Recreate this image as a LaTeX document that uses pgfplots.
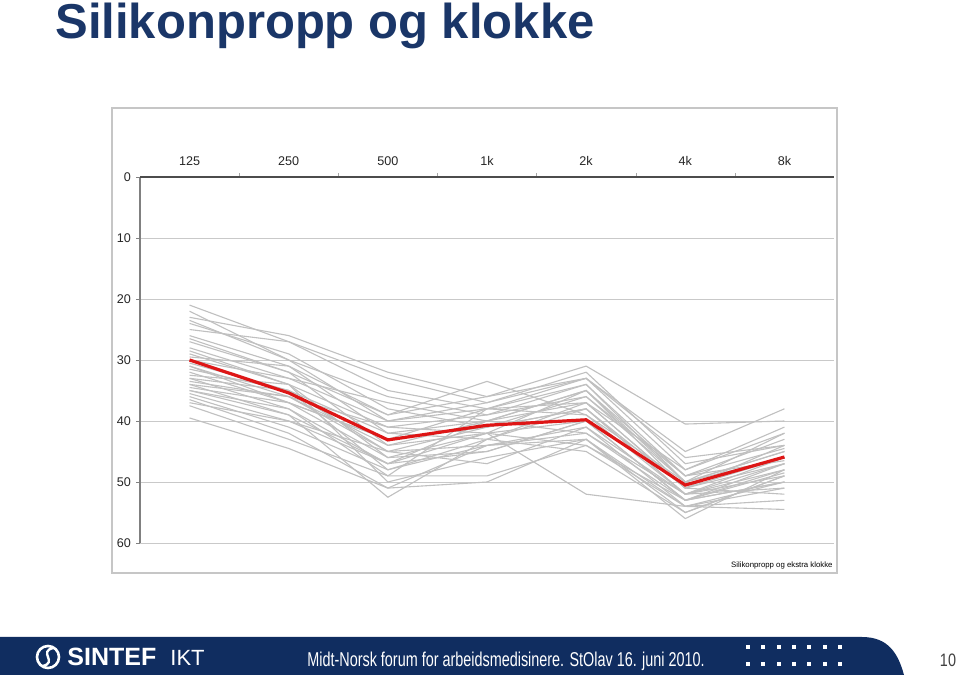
\documentclass[border=0pt]{standalone}
\usepackage{fontspec}
\setmainfont{Liberation Sans}
\usepackage{graphicx}
\usepackage{pgfplots}
\pgfplotsset{compat=1.18}
\definecolor{navy}{RGB}{26,54,104}
\definecolor{barnavy}{RGB}{16,45,96}
\definecolor{gl}{RGB}{192,192,192}
\definecolor{redl}{RGB}{222,22,22}
\newcommand\gl[7]{\addplot[gl, line width=0.55pt] coordinates {(0,#1)(1,#2)(2,#3)(3,#4)(4,#5)(5,#6)(6,#7)};}
\begin{document}
\begin{tikzpicture}[x=0.5pt,y=0.5pt]
\useasboundingbox (0,0) rectangle (960,675);
\fill[white] (0,0) rectangle (960,675);
\node[anchor=base west, font=\fontsize{24.5}{28}\selectfont\bfseries, text=navy, inner sep=0] at (55,636) {Silikonpropp og klokke};
\draw[gray!45, line width=0.6pt] (112,102) rectangle (837,567);
\begin{axis}[at={(70pt,66pt)}, anchor=south west, scale only axis, width=347pt, height=183pt,
 xmin=-0.5, xmax=6.5, ymin=0, ymax=60, y dir=reverse,
 xtick={0,...,6}, xticklabels={125,250,500,1k,2k,4k,8k}, xticklabel pos=right, xtick pos=right,
 major x tick style={draw=none}, minor xtick={0.5,1.5,...,5.5},
 minor x tick style={gray!70}, minor tick length=2pt,
 ytick={0,10,...,60}, ytick pos=left, ytick style={gray},
 ymajorgrids, grid style={gl!85, line width=0.5pt},
 tick align=outside, major tick length=2pt,
 axis line style={draw=none},
 ticklabel style={font=\fontsize{6.3}{7}\selectfont, text=black!85},
 yticklabel style={xshift=1pt},
 /pgf/number format/assume math mode=true,
 clip=false]
\gl{21}{27}{35}{38}{33}{48}{42}
\gl{22}{30}{40}{37}{32}{47}{44}
\gl{23}{26}{32}{36}{31}{40.5}{40}
\gl{23.5}{30}{36}{39}{34}{50}{46}
\gl{24}{29}{38}{41}{36}{49}{43}
\gl{25}{27}{33}{37}{33}{45}{38}
\gl{26}{31}{42}{43}{38}{52}{48}
\gl{27}{32}{44}{40}{35}{51}{47}
\gl{28}{33}{37}{40}{37}{48}{41}
\gl{29}{34}{46}{42}{40}{53}{50}
\gl{29.5}{31}{39}{33.5}{39}{52}{49}
\gl{30.5}{35}{45}{44}{41}{54}{51}
\gl{31}{36}{41}{39}{36}{50}{45}
\gl{31.5}{35}{48}{44}{42}{53}{48}
\gl{32}{37}{43}{41}{38}{51}{44}
\gl{32.5}{34}{50}{46}{43}{55}{49}
\gl{33}{38}{47}{40}{42}{52}{46}
\gl{33.5}{36}{44}{42}{44}{54}{50}
\gl{34}{39}{52.5}{43}{37}{51}{52}
\gl{34.5}{37}{46}{45}{40}{53}{47}
\gl{35}{38}{49}{38}{39}{50}{45}
\gl{35.5}{40}{45}{47}{41}{52}{51}
\gl{36}{41}{48}{43}{45}{55}{49}
\gl{36.5}{42}{51}{44}{43}{54}{53}
\gl{37}{40}{47}{42}{52}{54}{54.5}
\gl{37.5}{43}{49}{49}{44}{53}{50}
\gl{39.5}{44.5}{51}{50}{43}{56}{48}
\gl{30}{33}{40}{38}{34}{49}{44.5}
\gl{33}{35}{42}{40}{35}{50}{42}
\gl{26.5}{32}{39}{36}{33}{46}{44}
\gl{31}{37}{43}{38}{37}{51}{46}
\gl{34}{36}{45}{41}{38}{52}{47}
\gl{28.5}{34}{41}{42}{35}{49}{46.5}
\gl{35}{39}{47}{45}{40}{53}{48.5}
\addplot[redl, line width=1.6pt] coordinates {(0,30)(1,35.4)(2,43.1)(3,40.7)(4,39.8)(5,50.5)(6,45.9)};
\draw[gray, line width=0.6pt] (rel axis cs:0,0) -- (rel axis cs:0,1);
\draw[gray!60!black, line width=0.6pt] (rel axis cs:0,1) -- (rel axis cs:1,1);
\end{axis}
\node[anchor=base east, font=\fontsize{3.9}{4.5}\selectfont, inner sep=0] at (833,107) {Silikonpropp og ekstra klokke};
% footer
\fill[barnavy] (0,0) -- (0,38) -- (862,38) .. controls (888,38) and (898,22) .. (904,0) -- cycle;
\draw[white, line width=1.3pt] (48,18) circle (11);
\draw[white, line width=1.2pt] (43,9) .. controls (58,13) and (38,23) .. (53,27);
\node[anchor=base west, font=\fontsize{12.5}{14}\selectfont\bfseries, text=white, inner sep=0] at (67,9) {SINTEF};
\node[anchor=base west, font=\fontsize{11}{13}\selectfont, text=white, inner sep=0] at (170,9) {IKT};
\node[anchor=base, inner sep=0, text=white, font=\fontsize{10}{11}\selectfont] at (506,8) {\scalebox{0.72}[1]{Midt-Norsk forum for arbeidsmedisinere. StOlav 16. juni 2010.}};
\foreach \i in {0,...,6} {
  \fill[white] ({748+\i*15.3-2},26) rectangle +(4,4);
  \fill[white] ({748+\i*15.3-2},9) rectangle +(4,4);
}
\node[anchor=base, font=\fontsize{9}{10}\selectfont, text=black!75, inner sep=0] at (948,8) {\scalebox{0.8}[1]{10}};
\end{tikzpicture}
\end{document}
